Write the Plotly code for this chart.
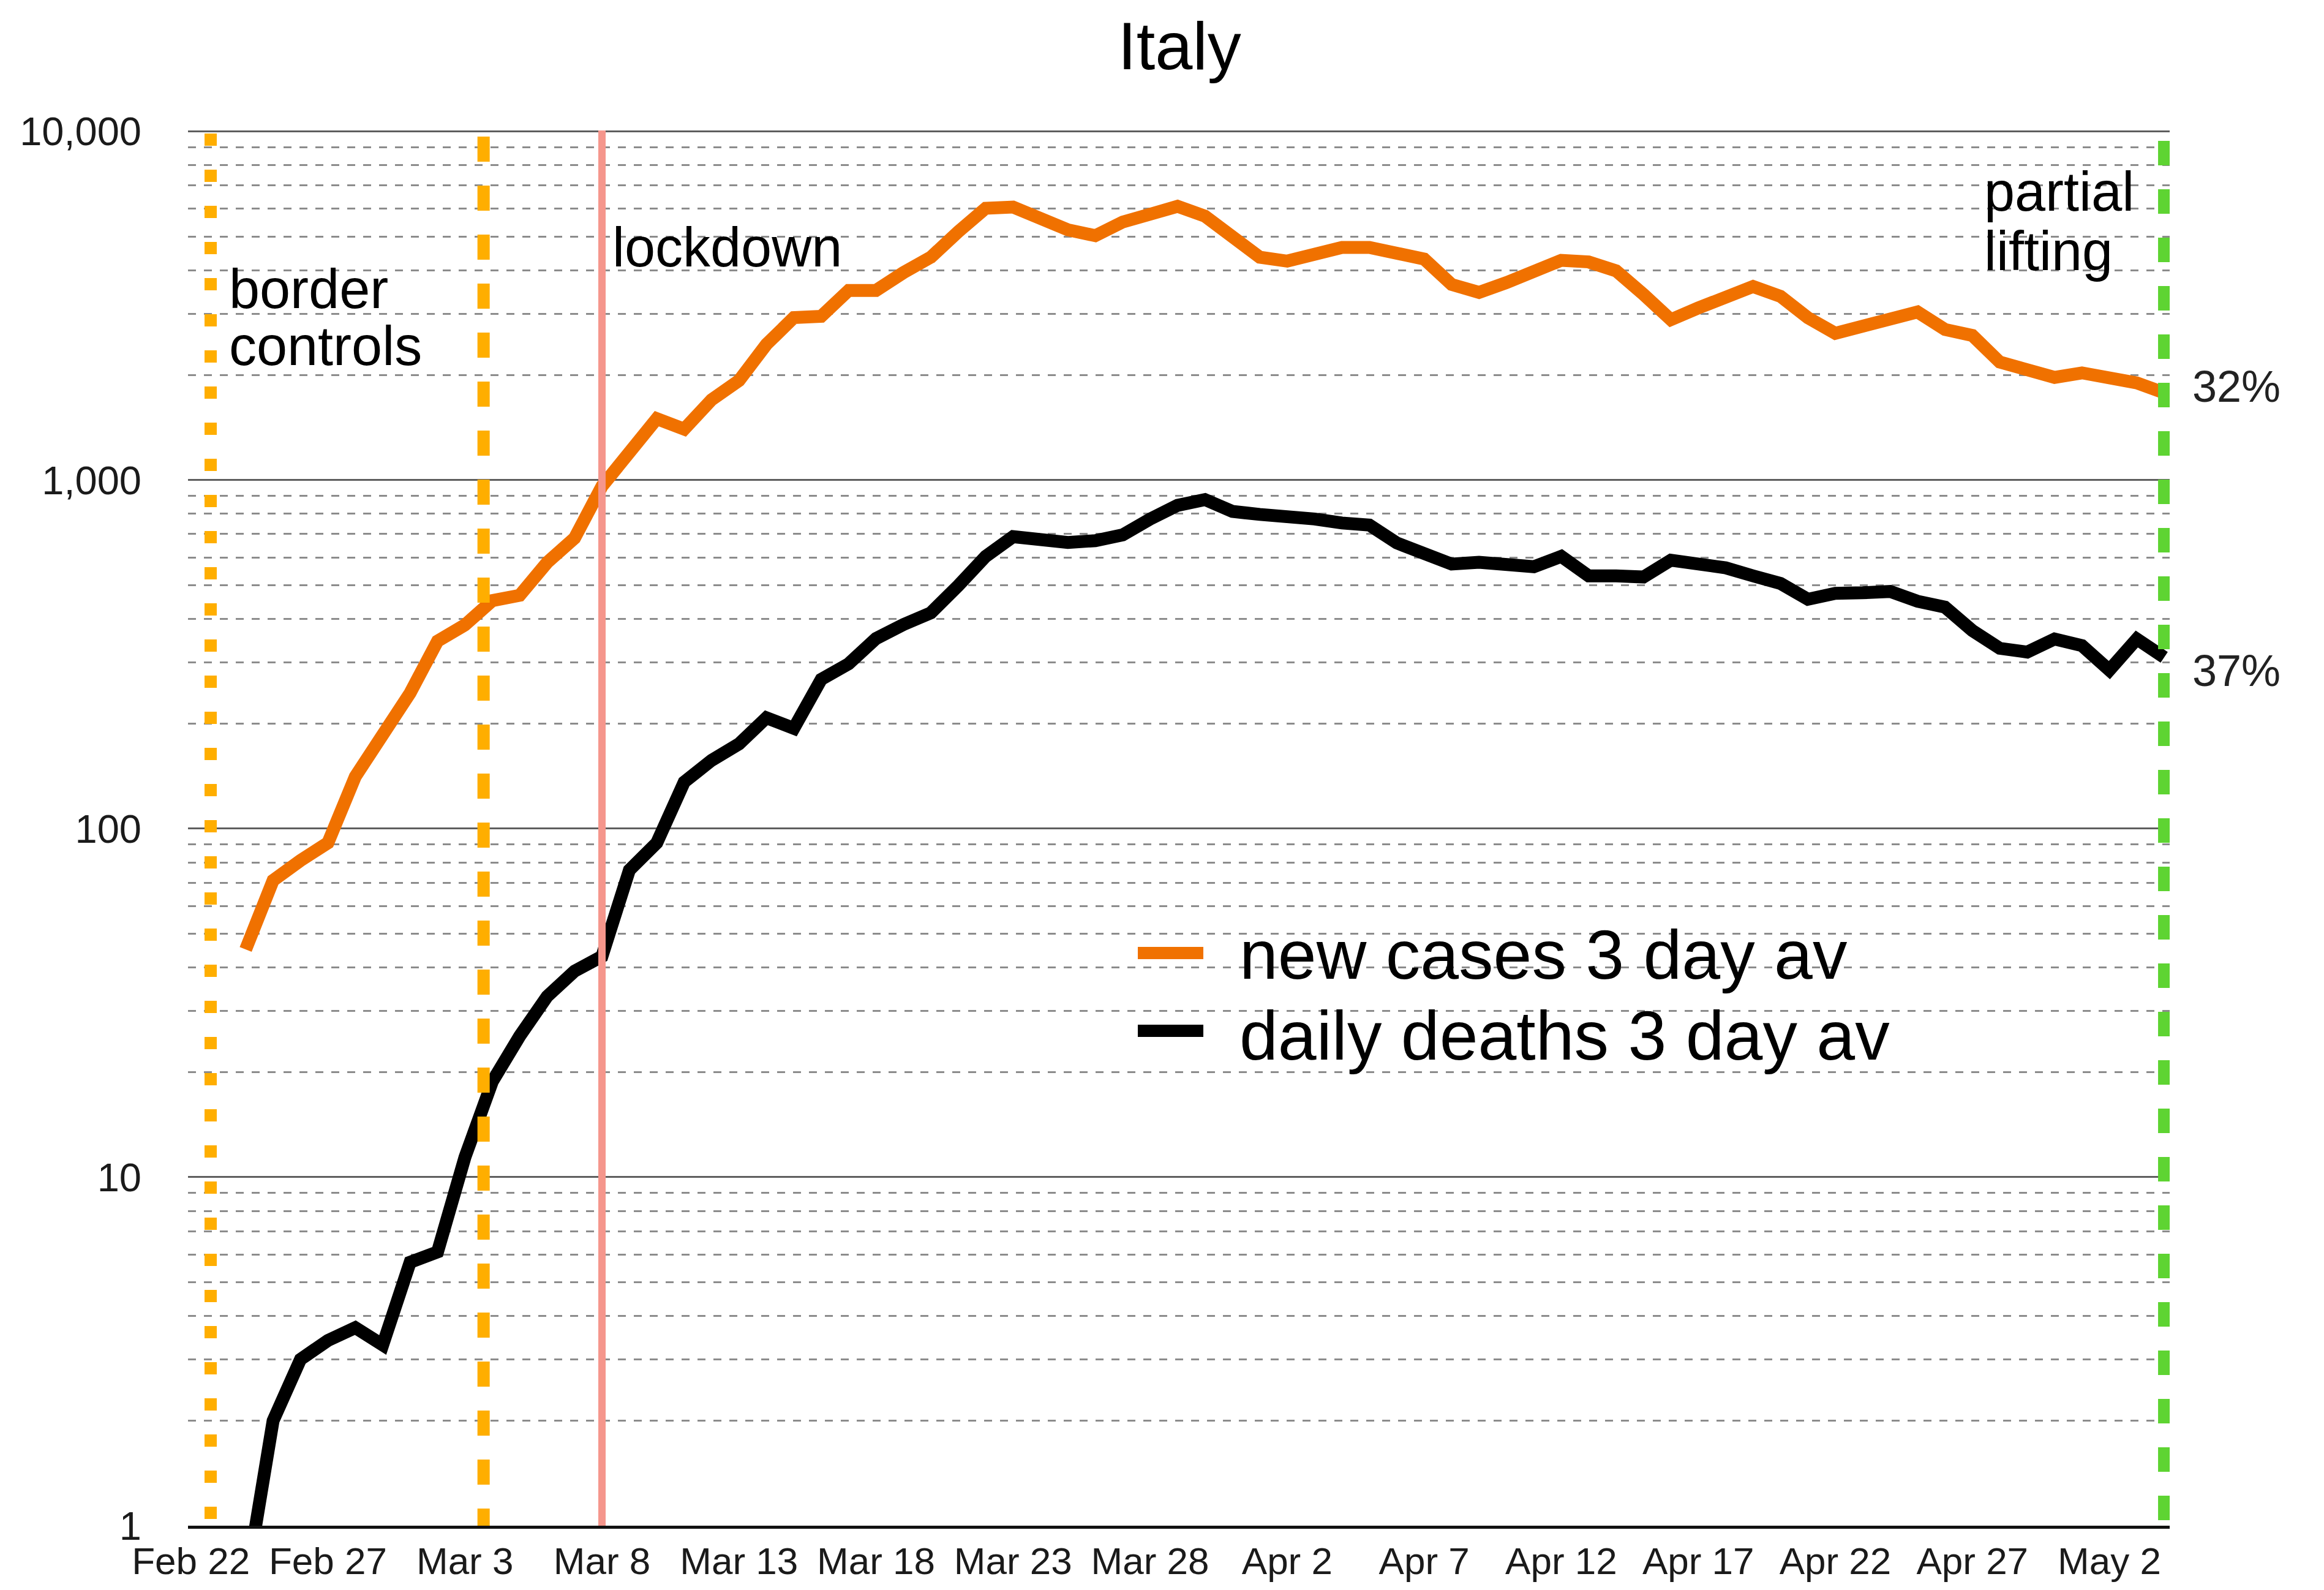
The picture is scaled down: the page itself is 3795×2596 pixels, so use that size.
import plotly.graph_objects as go
import pandas as pd

# ---------------- data ----------------
dates = pd.date_range("2020-02-24", "2020-05-04", freq="D")

new_cases_3day = [45, 71, 81, 91, 141, 187, 245, 345, 384, 451,
                  467, 580, 681, 960, 1210, 1500, 1400, 1700, 1930, 2450,
                  2924, 2950, 3500, 3500, 3937, 4360, 5158, 6020, 6070, 5646,
                  5224, 5025, 5500, 5790, 6100, 5720, 5025, 4360, 4248, 4474,
                  4650, 4650, 4500, 4305, 3640, 3454, 3686, 3984, 4270, 4225,
                  3984, 3410, 2884, 3117, 3325, 3592, 3366, 2922, 2636, 2775,
                  2922, 3036, 2704, 2600, 2180, 2060, 1970, 2030, 1960, 1900,
                  1780]

daily_deaths_3day = [0.67, 2.0, 3.0, 3.4, 3.7, 3.3, 5.7, 6.1, 11.4, 18.8,
                     25.4, 33, 39, 43, 76, 91, 136, 157, 175, 208,
                     194, 268, 297, 351, 385, 416, 498, 604, 688, 679,
                     662, 670, 696, 773, 846, 879, 813, 797, 788, 773,
                     753, 743, 660, 612, 574, 581, 574, 564, 604, 531,
                     531, 527, 589, 574, 560, 531, 505, 455, 473, 475,
                     479, 449, 432, 370, 329, 321, 350, 335, 285, 350,
                     310]

x_tick_vals = ["2020-02-22", "2020-02-27", "2020-03-03", "2020-03-08", "2020-03-13",
               "2020-03-18", "2020-03-23", "2020-03-28", "2020-04-02", "2020-04-07",
               "2020-04-12", "2020-04-17", "2020-04-22", "2020-04-27", "2020-05-02"]
x_tick_text = ["Feb 22", "Feb 27", "Mar 3", "Mar 8", "Mar 13", "Mar 18", "Mar 23",
               "Mar 28", "Apr 2", "Apr 7", "Apr 12", "Apr 17", "Apr 22", "Apr 27", "May 2"]

y_tick_vals = [1, 10, 100, 1000, 10000]
y_tick_text = ["1", "10", "100", "1,000", "10,000"]

event_border = "2020-02-22 17:20"
event_schools = "2020-03-03 16:20"
event_lockdown = "2020-03-08 00:00"
event_lifting = "2020-05-04 00:00"

series_names = ["new cases 3 day av", "daily deaths 3 day av"]
end_labels = ["32%", "37%"]

# ---------------- style ----------------
ORANGE = "#F07100"
BLACK = "#000000"
YELLOW = "#FFAE00"
PINK = "#F5968C"
GREEN = "#5ED432"
FONT = "Liberation Sans, Arial, Helvetica, sans-serif"

OFF = 8                      # default page body margin
W, H = 3795 - 2 * OFF, 2596 - 2 * OFF
# plot-area edges in reference-image pixels
X0, X1 = 307, 3543
Y0, Y1 = 213, 2491


def px(x):
    return (x - X0) / (X1 - X0)


def py(y):
    return (Y1 - y) / (Y1 - Y0)


fig = go.Figure()
fig.add_trace(go.Scatter(x=dates, y=new_cases_3day, mode="lines",
                         line=dict(color=ORANGE, width=21),
                         name=series_names[0], showlegend=False))
fig.add_trace(go.Scatter(x=dates, y=daily_deaths_3day, mode="lines",
                         line=dict(color=BLACK, width=21),
                         name=series_names[1], showlegend=False))

shapes = [
    dict(type="line", xref="x", yref="paper", x0=event_border, x1=event_border,
         y0=py(218), y1=0, line=dict(color=YELLOW, width=20, dash="20px,39px"), layer="above"),
    dict(type="line", xref="x", yref="paper", x0=event_schools, x1=event_schools,
         y0=py(223), y1=0, line=dict(color=YELLOW, width=20, dash="41px,39px"), layer="above"),
    dict(type="line", xref="x", yref="paper", x0=event_lockdown, x1=event_lockdown,
         y0=1, y1=0, line=dict(color=PINK, width=12), layer="above"),
    dict(type="line", xref="x", yref="paper", x0=event_lifting, x1=event_lifting,
         y0=py(230), y1=0, line=dict(color=GREEN, width=20, dash="40px,39px"), layer="above"),
    # legend keys
    dict(type="line", xref="paper", yref="paper", x0=px(1858), x1=px(1965),
         y0=py(1556), y1=py(1556), line=dict(color=ORANGE, width=20), layer="above"),
    dict(type="line", xref="paper", yref="paper", x0=px(1858), x1=px(1965),
         y0=py(1683), y1=py(1683), line=dict(color=BLACK, width=20), layer="above"),
]


def label(text, xpix, ypix, size, color="#000000"):
    return dict(text=text, xref="paper", yref="paper", x=px(xpix), y=py(ypix),
                xanchor="left", yanchor="middle", showarrow=False,
                font=dict(family=FONT, size=size, color=color))


annotations = [
    label("border", 372, 472, 90),
    label("controls", 372, 565, 90),
    label("lockdown", 998, 404, 90),
    label("partial", 3238, 313, 90),
    label("lifting", 3238, 410, 90),
    label(end_labels[0], 3578, 631, 72, "#222222"),
    label(end_labels[1], 3578, 1095, 72, "#222222"),
    label(series_names[0], 2022, 1559, 113),
    label(series_names[1], 2022, 1691, 113),
]

fig.update_layout(
    template="none",
    width=W, height=H,
    margin=dict(l=X0 - OFF, r=(3795 - OFF) - X1, t=Y0 - OFF, b=(2596 - OFF) - Y1, pad=0,
                autoexpand=False),
    paper_bgcolor="white", plot_bgcolor="white",
    title=dict(text="Italy", x=(1926 - OFF) / W, xanchor="center", xref="container",
               y=1 - (74 - OFF) / H, yanchor="middle", yref="container",
               font=dict(family=FONT, size=110, color="#000000")),
    shapes=shapes, annotations=annotations,
    showlegend=False,
    font=dict(family=FONT),
)

fig.update_xaxes(
    type="date", automargin=False,
    range=["2020-02-21 21:30", "2020-05-04 04:48"],
    tickmode="array", tickvals=x_tick_vals, ticktext=x_tick_text,
    showgrid=False, zeroline=False,
    showline=True, linecolor="#111111", linewidth=5,
    ticks="", ticklabelstandoff=0,
    tickfont=dict(family=FONT, size=62, color="#1a1a1a"),
)

fig.update_yaxes(
    type="log", automargin=False, range=[0, 4.003],
    tickmode="array", tickvals=y_tick_vals, ticktext=y_tick_text,
    showgrid=True, gridcolor="#5e5e5e", gridwidth=3,
    minor=dict(dtick="D1", showgrid=True, gridcolor="#8c8c8c", gridwidth=3,
               griddash="13px,13px", ticks=""),
    zeroline=False, showline=False, ticks="", ticklabelstandoff=75,
    tickfont=dict(family=FONT, size=65, color="#1a1a1a"),
)

fig.write_html("out.html")
